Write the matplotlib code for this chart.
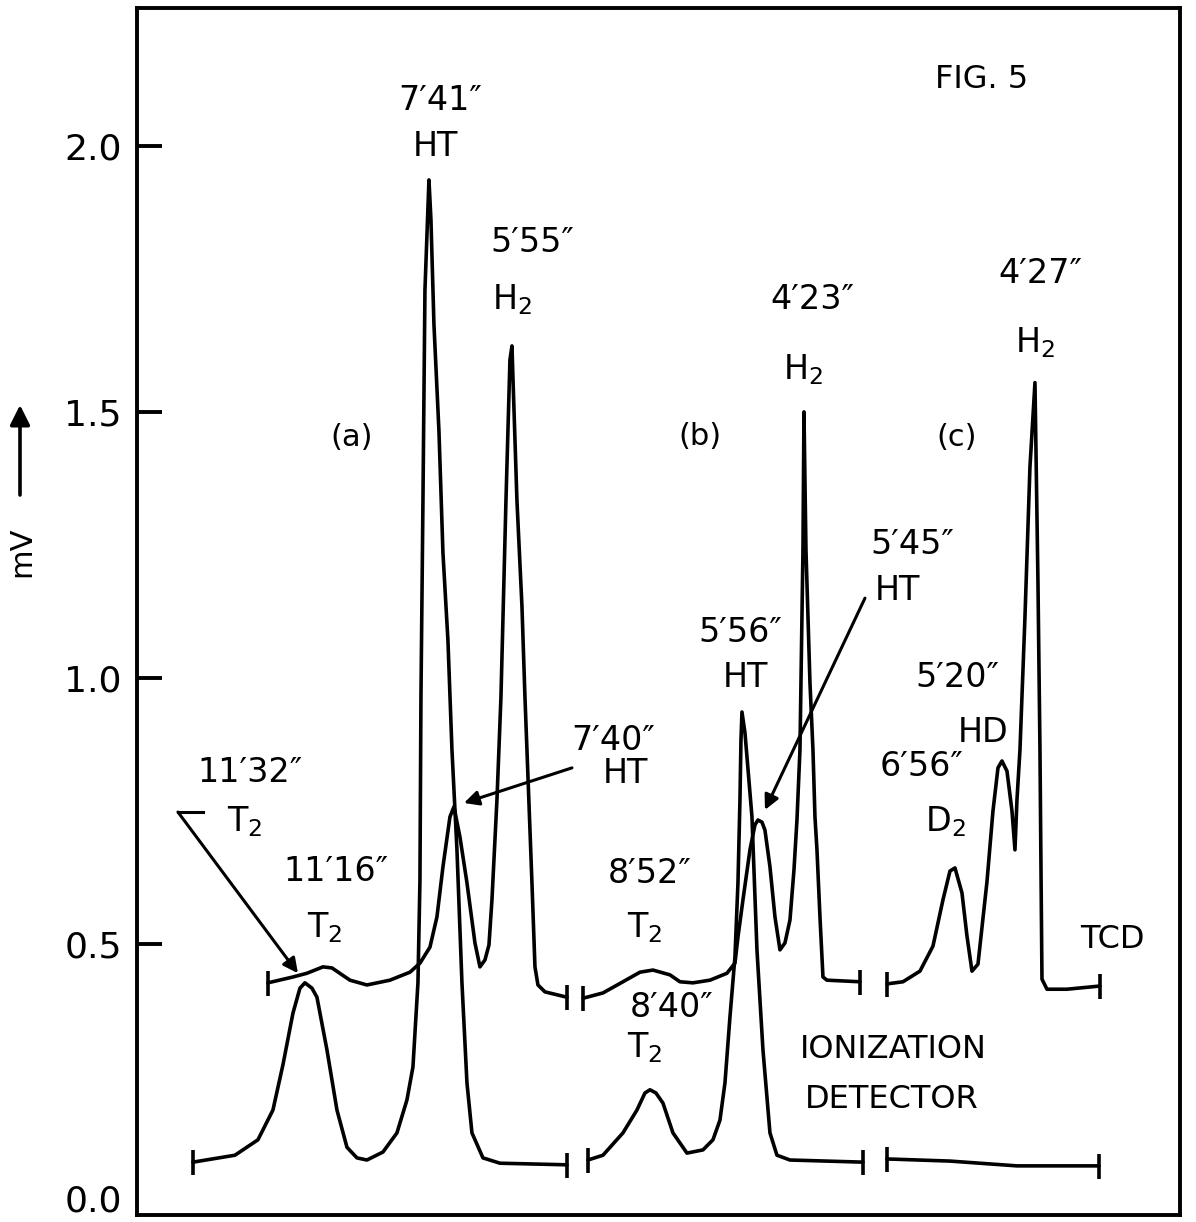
import matplotlib.pyplot as plt
from matplotlib.transforms import ScaledTranslation

# Fig. 5 - gas chromatograms, TCD (upper traces) and ionization detector (lower traces)
# x is chart position along the recorder paper (no units), y is signal in mV

# run (a)
ion_a_x = [5.6, 9.8, 12.1, 13.6, 14.6, 15.6, 16.3, 16.8, 17.5, 18.0, 19.0, 20.0, 21.0, 22.0,
           23.0, 24.6, 26.0, 27.0, 27.6, 28.1, 28.3, 28.4, 28.6, 28.8, 29.2, 29.4, 29.7, 30.2,
           30.6, 31.1, 31.5, 32.0, 32.5, 33.0, 33.5, 34.6, 36.3, 43.0]
ion_a_y = [0.090, 0.103, 0.132, 0.188, 0.273, 0.370, 0.417, 0.427, 0.417, 0.400, 0.301, 0.188,
           0.118, 0.098, 0.094, 0.109, 0.145, 0.207, 0.269, 0.427, 0.620, 0.964, 1.333, 1.729,
           1.936, 1.861, 1.664, 1.464, 1.235, 1.070, 0.865, 0.677, 0.427, 0.239, 0.145, 0.098,
           0.088, 0.085]

tcd_a_x = [13.1, 15.6, 17.0, 18.6, 19.5, 21.3, 23.0, 25.3, 27.3, 28.3, 29.3, 30.0, 30.6, 31.3,
           31.7, 32.3, 33.0, 33.8, 34.3, 34.8, 35.2, 35.5, 36.0, 36.4, 36.9, 37.3, 37.5, 37.6,
           38.0, 38.5, 38.8, 39.0, 39.5, 39.8, 40.1, 40.8, 43.0]
tcd_a_y = [0.427, 0.438, 0.445, 0.457, 0.455, 0.432, 0.423, 0.432, 0.447, 0.464, 0.494, 0.551,
           0.645, 0.739, 0.758, 0.701, 0.615, 0.502, 0.457, 0.470, 0.498, 0.583, 0.771, 0.964,
           1.333, 1.598, 1.624, 1.564, 1.333, 1.135, 0.964, 0.865, 0.615, 0.457, 0.423, 0.410,
           0.400]

# run (b)
ion_b_x = [45.1, 46.6, 48.6, 50.0, 50.8, 51.3, 51.9, 52.6, 53.6, 55.0, 56.6, 57.6, 58.3, 58.8,
           59.3, 59.8, 60.1, 60.3, 60.4, 60.5, 60.8, 61.5, 62.0, 62.6, 63.3, 64.0, 65.3, 72.6]
ion_b_y = [0.094, 0.103, 0.145, 0.188, 0.220, 0.226, 0.220, 0.201, 0.145, 0.107, 0.113, 0.132,
           0.169, 0.239, 0.363, 0.476, 0.615, 0.771, 0.883, 0.936, 0.897, 0.739, 0.489, 0.301,
           0.145, 0.103, 0.094, 0.090]

tcd_b_x = [44.6, 46.6, 48.6, 50.3, 51.6, 53.3, 54.3, 55.6, 57.3, 59.0, 59.8, 60.1, 60.6, 61.3,
           61.8, 62.1, 62.5, 62.8, 63.3, 63.8, 64.3, 64.8, 65.3, 65.7, 66.0, 66.3, 66.4, 66.6,
           66.7, 66.9, 67.3, 67.6, 67.8, 68.0, 68.3, 68.6, 69.0, 72.3]
tcd_b_y = [0.398, 0.408, 0.429, 0.447, 0.451, 0.442, 0.429, 0.427, 0.432, 0.445, 0.464, 0.513,
           0.583, 0.677, 0.724, 0.733, 0.729, 0.714, 0.645, 0.551, 0.489, 0.502, 0.545, 0.639,
           0.733, 0.865, 0.991, 1.241, 1.500, 1.241, 0.991, 0.865, 0.739, 0.677, 0.551, 0.438,
           0.432, 0.429]

# run (c)
ion_c_x = [75.0, 81.3, 88.0, 96.2]
ion_c_y = [0.096, 0.092, 0.083, 0.083]

tcd_c_x = [75.0, 76.6, 78.3, 79.6, 80.6, 81.3, 81.8, 82.5, 83.0, 83.5, 84.1, 85.0, 85.6, 86.1,
           86.5, 87.0, 87.5, 87.8, 88.0, 88.3, 88.8, 89.3, 89.8, 89.9, 90.1, 90.3, 90.4, 90.5,
           91.0, 93.0, 96.3]
tcd_c_y = [0.425, 0.429, 0.449, 0.496, 0.583, 0.637, 0.643, 0.596, 0.515, 0.449, 0.462, 0.617,
           0.750, 0.831, 0.844, 0.825, 0.750, 0.677, 0.771, 0.865, 1.115, 1.397, 1.555, 1.429,
           1.179, 0.865, 0.645, 0.434, 0.415, 0.415, 0.421]

tick_vals = [0.0, 0.5, 1.0, 1.5, 2.0]
tick_labels = ["0.0", "0.5", "1.0", "1.5", "2.0"]

fig = plt.figure(figsize=(11.96, 12.22), dpi=100)
ax = fig.add_axes([0.1145, 0.0057, 0.8721, 0.9877])

segments = [(ion_a_x, ion_a_y), (tcd_a_x, tcd_a_y),
            (ion_b_x, ion_b_y), (tcd_b_x, tcd_b_y),
            (ion_c_x, ion_c_y), (tcd_c_x, tcd_c_y)]
for xs, ys in segments:
    ax.plot(xs, ys, color="black", lw=2.6, solid_joinstyle="round", solid_capstyle="round")
    # end marks of each recorder section
    ax.plot([xs[0], xs[-1]], [ys[0], ys[-1]], ls="none", marker="|",
            ms=18, mew=2.6, color="black")

ax.set_xlim(0, 104.3)
ax.set_ylim(-0.0094, 2.259)
ax.set_xticks([])
ax.set_yticks(tick_vals, tick_labels)
ax.tick_params(axis="y", direction="in", length=18, width=2.8, labelsize=26, pad=11)
for sp in ax.spines.values():
    sp.set_linewidth(2.8)

# no tick mark at the corner, and lift the 0.0 label so it stays on the page
ax.yaxis.get_major_ticks()[0].tick1line.set_visible(False)
zero_lbl = ax.get_yticklabels()[0]
zero_lbl.set_transform(zero_lbl.get_transform() + ScaledTranslation(0, 9 / 72, fig.dpi_scale_trans))


def label(x, y, s, size=24):
    ax.text(x, y, s, ha="center", va="center", fontsize=size)


label(84.5, 2.124, "FIG. 5", 23)
label(30.3, 2.086, "7′41″")
label(29.8, 1.998, "HT")
label(39.5, 1.818, "5′55″")
label(37.5, 1.711, r"H$_2$")
label(21.5, 1.451, "(a)", 22)
label(56.3, 1.453, "(b)", 22)
label(82.0, 1.451, "(c)", 22)
label(67.5, 1.711, "4′23″")
label(66.6, 1.579, r"H$_2$")
label(90.3, 1.761, "4′27″")
label(89.8, 1.630, r"H$_2$")
label(77.5, 1.250, "5′45″")
label(76.0, 1.165, "HT")
label(60.3, 1.086, "5′56″")
label(60.8, 1.000, "HT")
label(82.0, 1.000, "5′20″")
label(84.6, 0.897, "HD")
label(78.5, 0.833, "6′56″")
label(80.8, 0.729, r"D$_2$")
label(47.6, 0.883, "7′40″")
label(48.8, 0.821, "HT")
label(11.3, 0.823, "11′32″")
label(10.8, 0.729, r"T$_2$")
label(19.9, 0.637, "11′16″")
label(18.8, 0.530, r"T$_2$")
label(51.3, 0.633, "8′52″")
label(50.8, 0.530, r"T$_2$")
label(53.5, 0.380, "8′40″")
label(50.8, 0.305, r"T$_2$")
label(97.5, 0.508, "TCD", 23)
ax.text(66.3, 0.301, "IONIZATION", ha="left", va="center", fontsize=23)
ax.text(66.8, 0.207, "DETECTOR", ha="left", va="center", fontsize=23)

arrow = dict(arrowstyle="-|>", lw=2.2, color="black", mutation_scale=22, shrinkA=0, shrinkB=0)
ax.plot([4.1, 6.6], [0.748, 0.748], color="black", lw=2.2)
ax.annotate("", xy=(16.1, 0.445), xytext=(4.1, 0.748), arrowprops=arrow)
ax.annotate("", xy=(32.7, 0.765), xytext=(43.5, 0.831), arrowprops=arrow)
ax.annotate("", xy=(62.8, 0.752), xytext=(72.8, 1.150), arrowprops=arrow)

# y axis unit with upward arrow
fig.text(22 / 1196, 1 - 552 / 1222, "mV", rotation=90, fontsize=22, ha="center", va="center")
ax.annotate("", xy=(20 / 1196, 1 - 405 / 1222), xytext=(20 / 1196, 1 - 495 / 1222),
            xycoords="figure fraction", textcoords="figure fraction",
            arrowprops=dict(arrowstyle="-|>", lw=2.6, color="black", mutation_scale=30,
                            shrinkA=0, shrinkB=0))

fig.savefig("out.png", dpi=100)
